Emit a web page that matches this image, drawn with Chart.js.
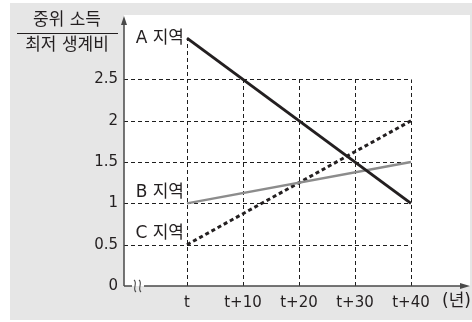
<!DOCTYPE html>
<html>
<head>
<meta charset="utf-8">
<script src="https://cdn.jsdelivr.net/npm/chart.js@4"></script>
<style>
  body { margin: 0; background: #fff; }
  #wrap { width: 472px; height: 322px; position: relative; }
</style>
</head>
<body>
<div id="wrap"><canvas id="chart"></canvas></div>
<script>
// data
const years = [0, 40];
const seriesNames = ['A 지역', 'B 지역', 'C 지역'];
const regionA = [3, 1];
const regionB = [1, 1.5];
const regionC = [0.5, 2];
const xTicks = [0, 10, 20, 30, 40];
const xLabels = ['t', 't+10', 't+20', 't+30', 't+40'];
const yTicks = [0, 0.5, 1, 1.5, 2, 2.5];
const yLabels = ['0', '0.5', '1', '1.5', '2', '2.5'];
const titleTop = '중위 소득';
const titleBottom = '최저 생계비';
const unitLabel = '(년)';

const textColor = '#231f20';
const korFont = '17px "DejaVu Sans", "Noto Sans CJK KR", sans-serif';

function toPoints(values) {
  return values.map((v, i) => ({ x: years[i], y: v }));
}

const decor = {
  id: 'decor',
  beforeDraw(chart) {
    const { ctx, chartArea: a } = chart;
    ctx.save();
    ctx.fillStyle = '#e6e6e6';
    ctx.fillRect(10, 3, 462, 317);
    ctx.fillStyle = '#ffffff';
    ctx.fillRect(a.left, a.top, a.right - a.left, a.bottom - a.top);
    ctx.restore();
  },
  beforeDatasetsDraw(chart) {
    const { ctx, chartArea: a, scales: { x, y } } = chart;
    const all = chart.data.datasets.map(d => d.data);
    const gridTop = yTicks[yTicks.length - 1];
    const xEnd = x.getPixelForValue(xTicks[xTicks.length - 1]);
    ctx.save();
    ctx.strokeStyle = '#1e1e1e';
    ctx.lineWidth = 1;
    ctx.setLineDash([4, 3]);
    // horizontal dashed lines
    yTicks.forEach(v => {
      if (v === 0) return;
      const py = Math.round(y.getPixelForValue(v)) + 0.5;
      ctx.beginPath();
      ctx.moveTo(a.left, py);
      ctx.lineTo(xEnd, py);
      ctx.stroke();
    });
    // vertical dashed lines
    xTicks.forEach(v => {
      let top = gridTop;
      all.forEach(pts => pts.forEach(p => { if (p.x === v && p.y > top) top = p.y; }));
      const px = Math.round(x.getPixelForValue(v)) + 0.5;
      ctx.beginPath();
      ctx.moveTo(px, a.bottom);
      ctx.lineTo(px, y.getPixelForValue(top));
      ctx.stroke();
    });
    ctx.restore();
  },
  afterDatasetsDraw(chart) {
    const { ctx, chartArea: a, scales: { x, y } } = chart;
    ctx.save();
    // axes
    ctx.strokeStyle = '#4a4a4a';
    ctx.fillStyle = '#4a4a4a';
    ctx.lineWidth = 1.5;
    ctx.beginPath();
    ctx.moveTo(a.left, a.bottom);
    ctx.lineTo(a.left, a.top + 6);
    ctx.moveTo(a.left, a.bottom);
    ctx.lineTo(a.left + 8, a.bottom);
    ctx.moveTo(a.left + 20, a.bottom);
    ctx.lineTo(a.right - 6, a.bottom);
    ctx.stroke();
    // arrow heads
    ctx.beginPath();
    ctx.moveTo(a.left, a.top + 1);
    ctx.lineTo(a.left - 3, a.top + 10);
    ctx.lineTo(a.left + 3, a.top + 10);
    ctx.closePath();
    ctx.fill();
    ctx.beginPath();
    ctx.moveTo(a.right, a.bottom);
    ctx.lineTo(a.right - 10, a.bottom - 3);
    ctx.lineTo(a.right - 10, a.bottom + 3);
    ctx.closePath();
    ctx.fill();
    // axis break mark
    ctx.lineWidth = 1.1;
    [a.left + 11, a.left + 16].forEach(bx => {
      ctx.beginPath();
      ctx.moveTo(bx - 1, a.bottom - 6);
      ctx.bezierCurveTo(bx + 3, a.bottom - 3, bx - 3, a.bottom + 3, bx + 1, a.bottom + 6);
      ctx.stroke();
    });

    // region labels next to the start of each line
    ctx.fillStyle = textColor;
    ctx.font = korFont;
    ctx.textAlign = 'right';
    ctx.textBaseline = 'middle';
    const shifts = [0, -11, -11];
    chart.data.datasets.forEach((d, i) => {
      const p = d.data[0];
      ctx.fillText(seriesNames[i], x.getPixelForValue(p.x) - 3, y.getPixelForValue(p.y) + shifts[i]);
    });

    // y-axis title as a fraction
    ctx.textAlign = 'center';
    ctx.fillText(titleTop, 67, 21);
    ctx.fillText(titleBottom, 67, 46);
    ctx.strokeStyle = textColor;
    ctx.lineWidth = 1;
    ctx.beginPath();
    ctx.moveTo(17, 33.5);
    ctx.lineTo(118, 33.5);
    ctx.stroke();

    // unit after the last x label
    ctx.textAlign = 'left';
    ctx.fillText(unitLabel, 442, 302);
    ctx.restore();
  }
};

const ctx = document.getElementById('chart').getContext('2d');
new Chart(ctx, {
  type: 'line',
  data: {
    datasets: [
      {
        label: seriesNames[0],
        data: toPoints(regionA),
        borderColor: '#231f20',
        borderWidth: 3
      },
      {
        label: seriesNames[1],
        data: toPoints(regionB),
        borderColor: '#8c8c8c',
        borderWidth: 2.5
      },
      {
        label: seriesNames[2],
        data: toPoints(regionC),
        borderColor: '#231f20',
        borderWidth: 3,
        borderDash: [4, 3]
      }
    ]
  },
  options: {
    responsive: true,
    maintainAspectRatio: false,
    animation: false,
    layout: { padding: { top: 12, right: 2, left: 0, bottom: 0 } },
    elements: {
      point: { radius: 0 },
      line: { tension: 0, borderCapStyle: 'butt' }
    },
    plugins: {
      legend: { display: false },
      tooltip: { enabled: false }
    },
    scales: {
      x: {
        type: 'linear',
        min: -11.25,
        max: 50.54,
        grid: { display: false, drawTicks: false },
        border: { display: false },
        afterBuildTicks: scale => { scale.ticks = xTicks.map(v => ({ value: v })); },
        afterFit: scale => { scale.height = 36; },
        ticks: {
          autoSkip: false,
          maxRotation: 0,
          padding: 8,
          color: textColor,
          font: { family: '"DejaVu Sans", "Noto Sans CJK KR", sans-serif', size: 15 },
          callback: (v, i) => xLabels[i]
        }
      },
      y: {
        min: 0,
        max: 3.28,
        grid: { display: false, drawTicks: false },
        border: { display: false },
        afterBuildTicks: scale => { scale.ticks = yTicks.map(v => ({ value: v })); },
        afterFit: scale => { scale.width = 124; },
        ticks: {
          autoSkip: false,
          padding: 6,
          color: textColor,
          font: { family: '"DejaVu Sans", "Noto Sans CJK KR", sans-serif', size: 15 },
          callback: (v, i) => yLabels[i]
        }
      }
    }
  },
  plugins: [decor]
});
</script>
</body>
</html>
